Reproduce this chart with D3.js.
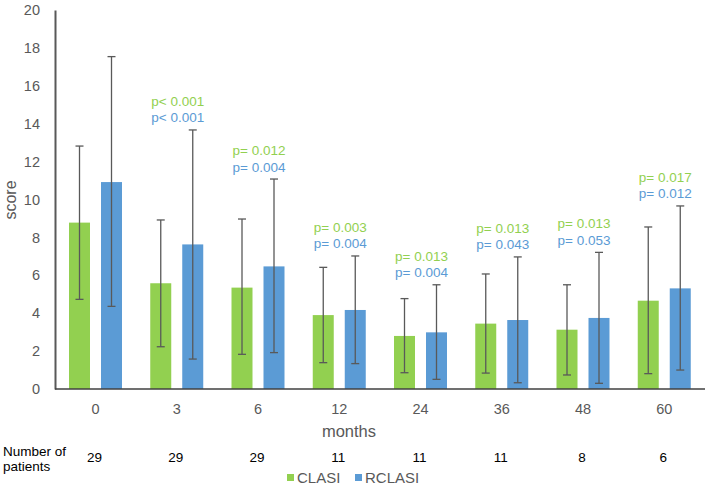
<!DOCTYPE html>
<html><head><meta charset="utf-8">
<script src="https://cdn.jsdelivr.net/npm/d3@7"></script>
<style>body{margin:0;background:#fff}svg{display:block;font-family:"Liberation Sans",Arial,sans-serif}</style>
</head><body><svg id="c" width="709" height="486"></svg>
<script>
const months = ["0","3","6","12","24","36","48","60"];
const series = ["CLASI","RCLASI"];
const clasiMean = [8.78,5.58,5.35,3.90,2.80,3.45,3.13,4.66];
const clasiHigh = [12.82,8.92,8.97,6.42,4.77,6.07,5.50,8.55];
const clasiLow  = [4.73,2.23,1.83,1.39,0.86,0.84,0.74,0.81];
const rclasiMean = [10.92,7.63,6.47,4.17,2.99,3.64,3.75,5.31];
const rclasiHigh = [17.54,13.67,11.08,7.02,5.50,6.97,7.21,9.66];
const rclasiLow  = [4.36,1.58,1.92,1.34,0.51,0.33,0.30,1.00];
const pClasi  = ["", "p< 0.001","p= 0.012","p= 0.003","p= 0.013","p= 0.013","p= 0.013","p= 0.017"];
const pRclasi = ["", "p< 0.001","p= 0.004","p= 0.004","p= 0.004","p= 0.043","p= 0.053","p= 0.012"];
const patients = ["29","29","29","11","11","11","8","6"];
const yTicks = [0,2,4,6,8,10,12,14,16,18,20];

(function(){
const colors = {CLASI:"#92d050", RCLASI:"#5b9bd5"};
const svg = d3.select("#c");
const mLeft = 55, mRight = 705, mTop = 10, mBottom = 389;
const y = d3.scaleLinear().domain([0,20]).range([mBottom, mTop]);
const x0 = d3.scaleBand().domain(months).range([mLeft, mRight]).padding(0);
const x1 = d3.scaleBand().domain(series).range([14, 67]).paddingInner(11/32).paddingOuter(0);

const rows = months.map((m,i)=>({m, i, vals:[
  {s:"CLASI", v:clasiMean[i], hi:clasiHigh[i], lo:clasiLow[i]},
  {s:"RCLASI", v:rclasiMean[i], hi:rclasiHigh[i], lo:rclasiLow[i]}]}));

// y axis
const ya = svg.append("g").attr("transform",`translate(${mLeft},0)`)
  .call(d3.axisLeft(y).tickValues(yTicks).tickSize(0).tickPadding(15));
ya.select(".domain").attr("stroke","#595959").attr("stroke-width",2);
ya.selectAll("text").attr("fill","#595959").style("font-size","14.5px").style("font-family","'Liberation Sans',Arial,sans-serif");

const g = svg.append("g");
const cat = g.selectAll("g.cat").data(rows).join("g").attr("class","cat")
  .attr("transform", d=>`translate(${x0(d.m)},0)`);
cat.selectAll("rect").data(d=>d.vals).join("rect")
  .attr("x", d=>x1(d.s)).attr("width", x1.bandwidth())
  .attr("y", d=>y(d.v)).attr("height", d=>y(0)-y(d.v))
  .attr("fill", d=>colors[d.s]);
const eb = cat.selectAll("g.eb").data(d=>d.vals).join("g").attr("class","eb")
  .attr("stroke","#595959").attr("stroke-width",1.3);
eb.append("line").attr("x1",d=>x1(d.s)+x1.bandwidth()/2).attr("x2",d=>x1(d.s)+x1.bandwidth()/2)
  .attr("y1",d=>y(d.hi)).attr("y2",d=>y(d.lo));
eb.append("line").attr("x1",d=>x1(d.s)+x1.bandwidth()/2-4).attr("x2",d=>x1(d.s)+x1.bandwidth()/2+4)
  .attr("y1",d=>y(d.hi)).attr("y2",d=>y(d.hi));
eb.append("line").attr("x1",d=>x1(d.s)+x1.bandwidth()/2-4).attr("x2",d=>x1(d.s)+x1.bandwidth()/2+4)
  .attr("y1",d=>y(d.lo)).attr("y2",d=>y(d.lo));

// p-values
cat.append("text").text(d=>pClasi[d.i])
  .attr("x", x1("CLASI")+1).attr("y", d=>y(Math.max(clasiHigh[d.i], rclasiHigh[d.i]))-24)
  .attr("fill","#92d050").style("font-size","13.5px");
cat.append("text").text(d=>pRclasi[d.i])
  .attr("x", x1("CLASI")+1).attr("y", d=>y(Math.max(clasiHigh[d.i], rclasiHigh[d.i]))-7.5)
  .attr("fill","#5b9bd5").style("font-size","13.5px");

// x axis
svg.append("line").attr("x1",mLeft).attr("x2",mRight).attr("y1",y(0)).attr("y2",y(0))
  .attr("stroke","#404040").attr("stroke-width",1.5);
svg.append("g").selectAll("text").data(months).join("text")
  .attr("x", d=>x0(d)+x0.bandwidth()/2).attr("y", 414).attr("text-anchor","middle")
  .attr("fill","#595959").style("font-size","14.5px").text(d=>d);

svg.append("text").attr("x",349).attr("y",437).attr("text-anchor","middle")
  .attr("fill","#595959").style("font-size","16.5px").text("months");
svg.append("text").attr("transform","translate(16,200) rotate(-90)").attr("text-anchor","middle")
  .attr("fill","#595959").style("font-size","16px").text("score");

// patients row
svg.append("text").attr("x",3).attr("y",456).attr("fill","#000").style("font-size","13.5px").text("Number of");
svg.append("text").attr("x",3).attr("y",471).attr("fill","#000").style("font-size","13.5px").text("patients");
svg.append("g").selectAll("text").data(months).join("text")
  .attr("x", (d)=>x0(d)+x0.bandwidth()/2-1).attr("y",462).attr("text-anchor","middle")
  .attr("fill","#000").style("font-size","13.5px").text((d,i)=>patients[i]);

// legend
const lx = [287, 355];
const lg = svg.append("g").selectAll("g").data(series).join("g")
  .attr("transform",(d,i)=>`translate(${lx[i]},0)`);
lg.append("rect").attr("x",0).attr("y",474).attr("width",7).attr("height",7).attr("fill",d=>colors[d]);
lg.append("text").attr("x",10).attr("y",482.5).attr("fill","#595959").style("font-size","15px").text(d=>d);
})();
</script></body></html>
